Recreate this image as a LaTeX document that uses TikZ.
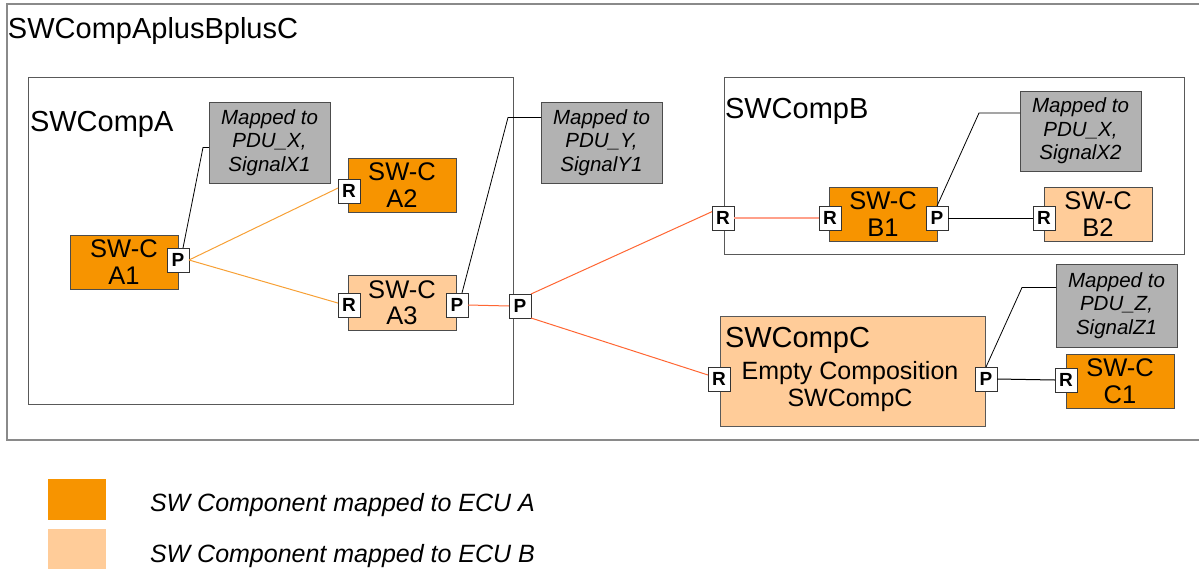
\documentclass[tikz,border=0pt]{standalone}
\usepackage{fontspec}
\setmainfont{Liberation Sans}
\usetikzlibrary{calc}
\definecolor{ecuA}{HTML}{F79400}
\definecolor{ecuB}{HTML}{FFCC99}
\definecolor{mapgray}{HTML}{B2B2B2}
\definecolor{lineA}{HTML}{F7A035}
\definecolor{lineR}{HTML}{FF6633}
\definecolor{lineS}{HTML}{FFA08A}
\definecolor{framec}{HTML}{8A8A8A}
\begin{document}
\begin{tikzpicture}[x=1pt,y=-1pt,
  every node/.style={inner sep=0pt, outer sep=0pt},
  container/.style={draw=framec, line width=1.2pt, anchor=north west},
  inner/.style={draw=black!65, line width=1pt, anchor=north west},
  swcA/.style={draw=black!70, line width=1pt, fill=ecuA, anchor=north west,
    minimum width=108pt, minimum height=54pt, align=center,
    font=\fontsize{25.5}{26.5}\selectfont},
  swcB/.style={swcA, fill=ecuB},
  mapbox/.style={draw=black!70, line width=1pt, fill=mapgray, anchor=north west,
    minimum width=121pt, minimum height=81pt, align=center,
    font=\itshape\fontsize{20.5}{23.5}\selectfont},
  port/.style={draw=black!80, line width=0.9pt, fill=white,
    minimum width=22pt, minimum height=24pt,
    font=\bfseries\fontsize{19}{19}\selectfont},
  lbl/.style={anchor=base west, font=\fontsize{29}{30}\selectfont},
  legtext/.style={anchor=base west, font=\itshape\fontsize{25}{26}\selectfont},
  conA/.style={draw=lineA, line width=1pt},
  conR/.style={draw=lineR, line width=1pt},
  conS/.style={draw=lineS, line width=1.2pt},
  conK/.style={draw=black, line width=1pt},
]
\useasboundingbox (0,0) rectangle (1199,568);

% containers
\node[container, minimum width=1200pt, minimum height=436pt] (outer) at (7,4) {};
\node[lbl] (outerlbl) at (8,38) {SWCompAplusBplusC};
\node[inner, minimum width=485pt, minimum height=327pt] (compA) at (28,77) {};
\node[lbl] (compAlbl) at (30,131) {SWCompA};
\node[inner, minimum width=460pt, minimum height=177pt] (compB) at (724,77) {};
\node[lbl] (compBlbl) at (725,118) {SWCompB};
\node[inner, fill=ecuB, minimum width=265pt, minimum height=110pt] (compC) at (720,316) {};
\node[lbl] (compClbl) at (725,347) {SWCompC};
\node[align=center, font=\fontsize{25}{27}\selectfont] (compCtxt) at (850,387) {Empty Composition\\SWCompC};

% mapping notes
\node[mapbox] (x1) at (209,102) {Mapped to\\PDU\_X,\\SignalX1};
\node[mapbox] (y1) at (541,102) {Mapped to\\PDU\_Y,\\SignalY1};
\node[mapbox, minimum height=80pt] (x2) at (1020,91) {Mapped to\\PDU\_X,\\SignalX2};
\node[mapbox, minimum height=83pt] (z1) at (1056,264) {Mapped to\\PDU\_Z,\\SignalZ1};

% components
\node[swcA] (a1) at (70,235) {SW-C\\A1};
\node[swcA] (a2) at (348,158) {SW-C\\A2};
\node[swcB, minimum height=55pt] (a3) at (348,275) {SW-C\\A3};
\node[swcA] (b1) at (829,187) {SW-C\\B1};
\node[swcB] (b2) at (1044,187) {SW-C\\B2};
\node[swcA] (c1) at (1066,354) {SW-C\\C1};

% ports
\node[port] (a1p) at (178,260) {P};
\node[port] (a2r) at (349,191) {R};
\node[port] (a3r) at (349,305) {R};
\node[port] (a3p) at (457,305) {P};
\node[port] (bp) at (520,306) {P};
\node[port] (br) at (723,218) {R};
\node[port] (b1r) at (830,218) {R};
\node[port] (b1p) at (937,218) {P};
\node[port] (b2r) at (1044,218) {R};
\node[port] (cr) at (719,379) {R};
\node[port] (cp) at (986,379) {P};
\node[port] (c1r) at (1066,380) {R};

% connectors
\draw[conA] (a1p.east) -- (a2r.165);
\draw[conA] (a1p.east) -- (a3r.170);
\draw[conR] (a3p.east) -- (bp.west);
\draw[conR] (bp.north east) -- (br.150);
\draw[conR] (bp.south east) -- (cr.160);
\draw[conS] (br.east) -- (b1r.west);
\draw[conK] (b1p.east) -- (b2r.west);
\draw[conK] (cp.east) -- (c1r.west);

% note links
\draw[conK, line width=0.8pt] ($(a1p.north)+(5,0)$) -- ($(x1.west)+(-6,5)$) -- ($(x1.west)+(0,5)$);
\draw[conK, line width=0.8pt] ($(a3p.north)+(5,0)$) -- ($(y1.west)+(-33,-25)$) -- ($(y1.west)+(0,-25)$);
\draw[conK, line width=0.8pt] (b1p.north) -- ($(x2.west)+(-41,-18)$) -- ($(x2.west)+(0,-18)$);
\draw[conK, line width=0.8pt] (cp.north) -- ($(z1.west)+(-34,-18)$) -- ($(z1.west)+(0,-18)$);

% legend
\node[anchor=north west, fill=ecuA, minimum width=58pt, minimum height=41pt] (legA) at (48,479) {};
\node[anchor=north west, fill=ecuB, minimum width=58pt, minimum height=40pt] (legB) at (48,529) {};
\node[legtext] (legAtxt) at (150,511) {SW Component mapped to ECU A};
\node[legtext] (legBtxt) at (150,562) {SW Component mapped to ECU B};
\end{tikzpicture}
\end{document}
